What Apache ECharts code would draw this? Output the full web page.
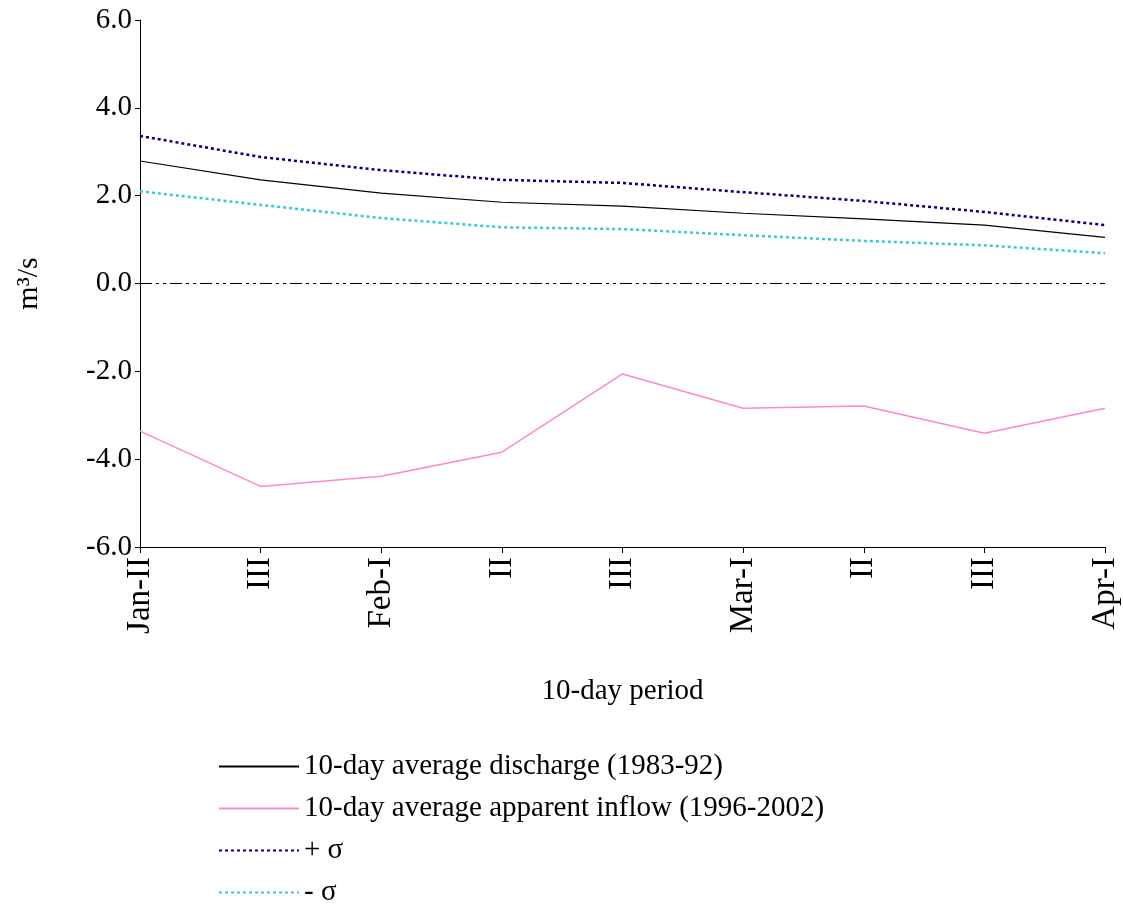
<!DOCTYPE html>
<html><head><meta charset="utf-8">
<script src="https://cdn.jsdelivr.net/npm/echarts@6/dist/echarts.min.js"></script>
<style>html,body{margin:0;background:#fff}#c{width:1123px;height:917px}</style>
</head><body><div id="c"></div>
<script>
var periods = ["Jan-II", "III", "Feb-I", "II", "III", "Mar-I", "II", "III", "Apr-I"];
var discharge = [2.79, 2.36, 2.06, 1.85, 1.76, 1.6, 1.47, 1.33, 1.05];
var inflow = [-3.36, -4.62, -4.39, -3.84, -2.06, -2.84, -2.79, -3.41, -2.84];
var plusSigma = [3.36, 2.88, 2.58, 2.36, 2.29, 2.08, 1.88, 1.63, 1.33];
var minusSigma = [2.1, 1.79, 1.49, 1.28, 1.24, 1.1, 0.97, 0.87, 0.69];
var zeroLine = [0, 0, 0, 0, 0, 0, 0, 0, 0];

var font = "Liberation Serif";
var chart = echarts.init(document.getElementById("c"));
chart.setOption({
  animation: false,
  textStyle: { fontFamily: font, color: "#000" },
  grid: { left: 140, right: 18, top: 20, bottom: 370 },
  xAxis: {
    type: "category", data: periods, boundaryGap: false,
    name: "10-day period", nameLocation: "middle", nameGap: 130,
    nameTextStyle: { fontSize: 29, fontFamily: font, color: "#000" },
    axisLine: { onZero: false, lineStyle: { color: "#000" } },
    axisTick: { show: true, length: 6, lineStyle: { color: "#000" } },
    axisLabel: { rotate: 90, fontSize: 33, fontFamily: font, color: "#000", margin: 10 }
  },
  yAxis: {
    type: "value", min: -6, max: 6, interval: 2,
    name: "m³/s", nameLocation: "middle", nameGap: 96, nameRotate: 90,
    nameTextStyle: { fontSize: 30, fontFamily: font, color: "#000" },
    axisLine: { show: true, lineStyle: { color: "#000" } },
    axisTick: { show: true, lineStyle: { color: "#000" } },
    splitLine: { show: false },
    axisLabel: { fontSize: 29, fontFamily: font, color: "#000", formatter: function (v) { return v.toFixed(1); } }
  },
  legend: {
    orient: "vertical", left: 218, top: 752, height: 165, padding: 0,
    itemWidth: 80, itemHeight: 12, itemGap: 13,
    itemStyle: { opacity: 0 },
    textStyle: { fontSize: 29, fontFamily: font, color: "#000" },
    data: ["10-day average discharge (1983-92)", "10-day average apparent inflow (1996-2002)", "+ σ", "- σ"]
  },
  series: [
    { name: "10-day average discharge (1983-92)", type: "line", data: discharge, symbol: "none", lineStyle: { color: "#000", width: 1.2 }, itemStyle: { color: "#000" } },
    { name: "10-day average apparent inflow (1996-2002)", type: "line", data: inflow, symbol: "none", lineStyle: { color: "#ff88cc", width: 1.5 }, itemStyle: { color: "#ff88cc" } },
    { name: "+ σ", type: "line", data: plusSigma, symbol: "none", lineStyle: { color: "#000080", width: 2.5, type: [3, 3] }, itemStyle: { color: "#000080" } },
    { name: "- σ", type: "line", data: minusSigma, symbol: "none", lineStyle: { color: "#33cccc", width: 2.5, type: [3, 3] }, itemStyle: { color: "#33cccc" } },
    { name: "zero", type: "line", data: zeroLine, symbol: "none", lineStyle: { color: "#000", width: 1.2, type: [12, 4, 3, 4, 3, 4] }, itemStyle: { color: "#000" } }
  ]
});
</script></body></html>
